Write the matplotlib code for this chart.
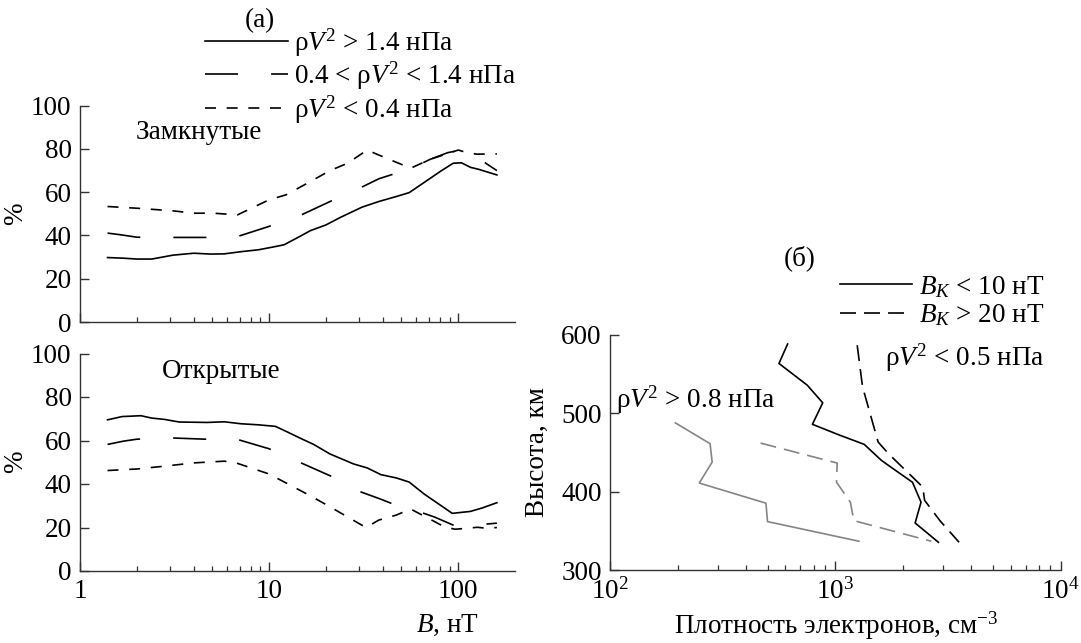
import matplotlib
matplotlib.use("Agg")
import matplotlib.pyplot as plt
from matplotlib.ticker import LogLocator, FixedLocator, FixedFormatter, NullFormatter
from matplotlib.lines import Line2D

plt.rcParams['font.family'] = ['Liberation Serif', 'DejaVu Serif']
plt.rcParams['mathtext.fontset'] = 'custom'
plt.rcParams['mathtext.rm'] = 'Liberation Serif'
plt.rcParams['mathtext.it'] = 'Liberation Serif:italic'
plt.rcParams['lines.scale_dashes'] = False
FS = 19.5

# (a) closed field lines, B in nT vs %
closed_hi_B = [1.4, 1.7, 2.0, 2.4, 3.1, 4.0, 4.9, 5.8, 7.1, 8.8, 10.4, 12.0, 14.5, 16.5, 20, 24, 31, 38, 47, 55, 66, 80, 94, 104, 116, 128, 160]
closed_hi = [29.8, 29.5, 29.1, 29.1, 30.9, 31.8, 31.4, 31.5, 32.5, 33.4, 34.6, 35.7, 39.5, 42.2, 44.9, 48.5, 53.1, 55.7, 58, 59.8, 64.5, 69.5, 73.4, 73.6, 71.5, 70.6, 68]
closed_mid_B = [1.4, 1.65, 2.0, 3.1, 4.6, 6.8, 10, 14.8, 21, 30, 38, 47, 58, 71, 88, 97, 128, 142, 160]
closed_mid = [41.1, 40.3, 39.2, 39.1, 39.1, 39.5, 44.2, 49.5, 55.7, 61.8, 66.2, 68.8, 71.5, 75.2, 78.3, 79, 75.7, 73, 70]
closed_lo_B = [1.4, 2.0, 3.1, 4.0, 5.1, 6.8, 10, 12.3, 16.5, 21, 26, 33, 38, 56, 71, 100, 111, 125, 160]
closed_lo = [53.4, 52.6, 51.4, 50.3, 50.3, 49.5, 56.5, 58.8, 64.9, 70, 73.4, 79.5, 77.2, 71.1, 75.2, 79.5, 78.3, 77.6, 77.7]

# (a) open field lines
open_hi_B = [1.4, 1.67, 2.1, 2.4, 2.8, 3.35, 4.7, 5.8, 7.1, 8.8, 10.8, 12.3, 14.5, 17.2, 21, 28, 33, 39, 47, 55, 66, 93, 116, 134, 160]
open_hi = [69.5, 71, 71.4, 70.3, 69.7, 68.5, 68.3, 68.6, 67.7, 67.2, 66.5, 64.2, 61.2, 58.2, 53.8, 49.2, 47.4, 44.3, 42.8, 40.9, 35.4, 26.5, 27.4, 29, 31.4]
open_mid_B = [1.4, 1.7, 2.0, 3.0, 4.6, 6.8, 10, 14.5, 21, 30, 39, 44, 60, 75, 94, 100, 142, 160]
open_mid = [58.2, 59.7, 60.6, 61.2, 60.6, 60.5, 56.2, 50, 43.8, 36.6, 33, 31.2, 27.7, 24.8, 21.1, 20.5, 21.6, 22]
open_lo_B = [1.4, 2.0, 2.8, 4.0, 5.8, 6.8, 10, 16.5, 21, 32.5, 38, 47, 56, 75, 84, 96, 110, 126, 143, 160]
open_lo = [46.2, 46.9, 48.2, 49.7, 50.5, 49.5, 44.6, 34.6, 29.5, 20, 23.4, 25.7, 28.5, 22.7, 20.4, 19.2, 19.6, 20.1, 19.6, 20]

# (б) electron density vs altitude
ne_bk10_lo = [614, 562, 750, 879, 791, 1048, 1343, 1600, 1811, 2199, 2400, 2260, 2866]
h_bk10_lo = [588.5, 563.7, 536, 513.4, 486, 472, 460.4, 440, 429, 412, 386.6, 360, 335.4]
ne_bk20_lo = [1250, 1320, 1440, 1548, 1720, 2123, 2445, 2488, 2911, 3540]
h_bk20_lo = [587, 534, 495.4, 463.4, 448.5, 423, 405.8, 389, 363, 335.4]
ne_bk10_hi = [195, 278, 284, 249, 492, 500, 1273]
h_bk10_hi = [487.8, 461.3, 437.8, 411, 385.3, 361.8, 336.7]
ne_bk20_hi = [466, 1019, 1012, 1166, 1208, 2667]
h_bk20_hi = [462, 436.5, 412, 386.6, 363, 336.7]

legend_a = [r'ρ$V^2$ > 1.4 нПа', r'0.4 < ρ$V^2$ < 1.4 нПа', r'ρ$V^2$ < 0.4 нПа']
legend_b = [r'$B_K$ < 10 нТ', r'$B_K$ > 20 нТ']

LW = 1.2
SOLID = '-'
LONG = (0, (23.8, 23.8))
SHORT = (0, (7.9, 7.7))
DASH_B = (0, (11.5, 5.8))
GRAY = '#858585'
AX_COLOR = '#333333'

W, H = 1081, 643
fig = plt.figure(figsize=(W / 100, H / 100), dpi=100)

ax1 = fig.add_axes([79.9 / W, 1 - 322 / H, 434.9 / W, 216.3 / H])
ax2 = fig.add_axes([79.9 / W, 1 - 571 / H, 434.9 / W, 217.5 / H])
ax3 = fig.add_axes([610 / W, 1 - 570 / H, 450.7 / W, 235 / H])


def style(ax):
    for s in ['top', 'right']:
        ax.spines[s].set_visible(False)
    for s in ['left', 'bottom']:
        ax.spines[s].set_color(AX_COLOR)
        ax.spines[s].set_linewidth(1.0)
    ax.tick_params(which='major', direction='in', length=6.5, width=1.0, color=AX_COLOR,
                   labelsize=FS, pad=6)
    ax.tick_params(which='minor', direction='in', length=3.8, width=0.9, color=AX_COLOR)


for ax in (ax1, ax2):
    style(ax)
    ax.set_xscale('log')
    ax.set_xlim(1, 199)
    ax.set_ylim(0, 100)
    ax.set_yticks([0, 20, 40, 60, 80, 100])
    ax.xaxis.set_major_locator(FixedLocator([1, 10, 100]))
    ax.xaxis.set_minor_locator(LogLocator(base=10, subs=range(2, 10)))
    ax.xaxis.set_minor_formatter(NullFormatter())
    ax.set_ylabel('%', fontsize=FS)
    ax.yaxis.set_label_coords(-0.119, 0.5)

ax1.xaxis.set_major_formatter(NullFormatter())
ax2.xaxis.set_major_formatter(FixedFormatter(['1', '10', '100']))

ax1.plot(closed_hi_B, closed_hi, color='black', lw=LW, linestyle=SOLID)
ax1.plot(closed_mid_B, closed_mid, color='black', lw=LW, linestyle=LONG)
ax1.plot(closed_lo_B, closed_lo, color='black', lw=LW, linestyle=SHORT)
ax2.plot(open_hi_B, open_hi, color='black', lw=LW, linestyle=SOLID)
ax2.plot(open_mid_B, open_mid, color='black', lw=LW, linestyle=LONG)
ax2.plot(open_lo_B, open_lo, color='black', lw=LW, linestyle=SHORT)

ax1.text(0.129, 0.874, 'Замкнутые', transform=ax1.transAxes, fontsize=FS, ha='left', va='center')
ax2.text(0.189, 0.916, 'Открытые', transform=ax2.transAxes, fontsize=FS, ha='left', va='center')

handles_a = [Line2D([], [], color='black', lw=LW, linestyle=ls) for ls in (SOLID, LONG, SHORT)]
fig.legend(handles_a, legend_a, loc='upper left', bbox_to_anchor=(205 / W, 1 - 26 / H),
           bbox_transform=fig.transFigure, frameon=False, fontsize=FS, handlelength=3.05,
           handletextpad=0.25, labelspacing=0.045, borderpad=0, borderaxespad=0)
fig.text(260 / W, 1 - 21 / H, '(a)', fontsize=FS, ha='center', va='center')
fig.text(447 / W, 1 - 625 / H, r'$B$, нТ', fontsize=FS, ha='center', va='center')

# panel (б)
style(ax3)
ax3.set_xscale('log')
ax3.set_xlim(100, 10000)
ax3.set_ylim(300, 600)
ax3.set_yticks([300, 400, 500, 600])
ax3.xaxis.set_major_locator(LogLocator(base=10))
ax3.xaxis.set_minor_locator(LogLocator(base=10, subs=range(2, 10)))
ax3.xaxis.set_minor_formatter(NullFormatter())

ax3.plot(ne_bk10_lo, h_bk10_lo, color='black', lw=LW, linestyle=SOLID)
ax3.plot(ne_bk20_lo, h_bk20_lo, color='black', lw=LW, linestyle=DASH_B)
ax3.plot(ne_bk10_hi, h_bk10_hi, color=GRAY, lw=LW, linestyle=SOLID)
ax3.plot(ne_bk20_hi, h_bk20_hi, color=GRAY, lw=LW, linestyle=DASH_B)

handles_b = [Line2D([], [], color='black', lw=LW, linestyle=ls) for ls in (SOLID, DASH_B)]
fig.legend(handles_b, legend_b, loc='upper left', bbox_to_anchor=(840 / W, 1 - 274 / H),
           bbox_transform=fig.transFigure, frameon=False, fontsize=FS, handlelength=2.66,
           handletextpad=0.26, labelspacing=0.1, borderpad=0, borderaxespad=0)
fig.text(800 / W, 1 - 258 / H, '(б)', fontsize=FS, ha='center', va='center')
fig.text(616 / W, 1 - 400 / H, r'ρ$V^2$ > 0.8 нПа', fontsize=FS, ha='left', va='center')
fig.text(885 / W, 1 - 358 / H, r'ρ$V^2$ < 0.5 нПа', fontsize=FS, ha='left', va='center')
fig.text(537 / W, 1 - 452 / H, 'Высота, км', fontsize=FS, ha='center', va='center', rotation=90)
fig.text(836 / W, 1 - 626 / H, r'Плотность электронов, см$^{-3}$', fontsize=FS, ha='center', va='center')

fig.savefig('out.png', dpi=100)
